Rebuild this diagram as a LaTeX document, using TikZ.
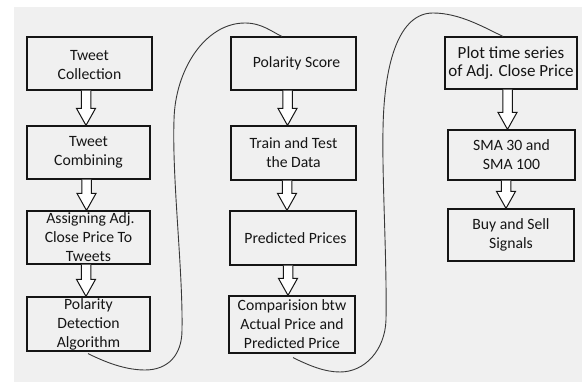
\documentclass[tikz,border=0pt]{standalone}
\usepackage{fontspec}
\setmainfont{Carlito}
\usetikzlibrary{calc}
\definecolor{bggray}{HTML}{F0F0F0}
\definecolor{ink}{HTML}{151515}
\newcommand\harrow[3]{%
  \draw[blockarrow] let \p1=(#1.south), \p2=(#2.north) in
    (\x1+#3pt-4.75pt,\y1) -- (\x1+#3pt-4.75pt,\y2+17pt) -- (\x1+#3pt-9.5pt,\y2+17pt)
    -- (\x1+#3pt,\y2) -- (\x1+#3pt+9.5pt,\y2+17pt) -- (\x1+#3pt+4.75pt,\y2+17pt)
    -- (\x1+#3pt+4.75pt,\y1);}
\begin{document}
\begin{tikzpicture}[x=1pt,y=-1pt,
  box/.style={draw=ink, line width=1.2pt, inner sep=0pt, align=center, text=ink,
    font=\fontsize{15.7pt}{19pt}\selectfont},
  bigtext/.style={font=\fontsize{17pt}{18.5pt}\selectfont},
  blockarrow/.style={draw=ink, line width=1pt, fill=white, line join=miter},
  loop/.style={draw=ink!85, line width=0.9pt}]
\useasboundingbox (0,0) rectangle (582,382);
\fill[white] (0,0) rectangle (582,382);
\fill[bggray] (14,7) rectangle (582,382);

\node[box, minimum width=125, minimum height=53] (b1) at (89.5,63.5) {\strut Tweet\\Collection};
\node[box, minimum width=123, minimum height=53] (b2) at (88.5,152.5) {Tweet\\Combining};
\node[box, minimum width=123, minimum height=53] (b3) at (88.5,237.5) {\hspace*{4pt}Assigning Adj.\\Close Price To\\Tweets};
\node[box, minimum width=123, minimum height=54] (b4) at (88.5,324) {Polarity\\Detection\\Algorithm};

\node[box, minimum width=125, minimum height=53] (b5) at (293.5,63.5) {\hspace*{6pt}Polarity Score};
\node[box, minimum width=125, minimum height=54] (b6) at (293.5,153) {Train and Test\\the Data};
\node[box, minimum width=126, minimum height=54] (b7) at (293,238) {\hspace*{5pt}Predicted Prices};
\node[box, minimum width=126, minimum height=57] (b8) at (292,324.5) {Comparision btw\\Actual Price and\\Predicted Price};

\node[box, bigtext, minimum width=132, minimum height=52] (b9) at (511,63) {Plot time series\\of Adj. Close Price};
\node[box, minimum width=127, minimum height=50] (b10) at (511.5,155) {SMA 30 and\\SMA 100};
\node[box, minimum width=126, minimum height=52] (b11) at (511,235) {Buy and Sell\\Signals};

\harrow{b1}{b2}{-3.5}
\harrow{b2}{b3}{-2}
\harrow{b3}{b4}{-2.5}
\harrow{b5}{b6}{-6}
\harrow{b6}{b7}{-6.5}
\harrow{b7}{b8}{-5}
\harrow{b9}{b10}{-3.5}
\harrow{b10}{b11}{-5.5}

\draw[loop] ($(b4.south)+(-0.5,2)$)
  .. controls (105,362) and (125,370) .. (145,370)
  .. controls (168,370) and (182,355) .. (182,330)
  .. controls (183,270) and (172,180) .. (174,120)
  .. controls (175,70) and (205,23) .. (245,23)
  .. controls (262,23) and (272,32) .. ($(b5.north)+(-11.5,0)$);

\draw[loop] ($(b8.south)+(1,4)$)
  .. controls (310,366) and (325,372) .. (340,372)
  .. controls (365,372) and (385,350) .. (386,320)
  .. controls (387,260) and (382,180) .. (383,130)
  .. controls (384,60) and (400,13) .. (433,13)
  .. controls (460,13) and (485,28) .. ($(b9.north)+(-8,0)$);
\end{tikzpicture}
\end{document}
